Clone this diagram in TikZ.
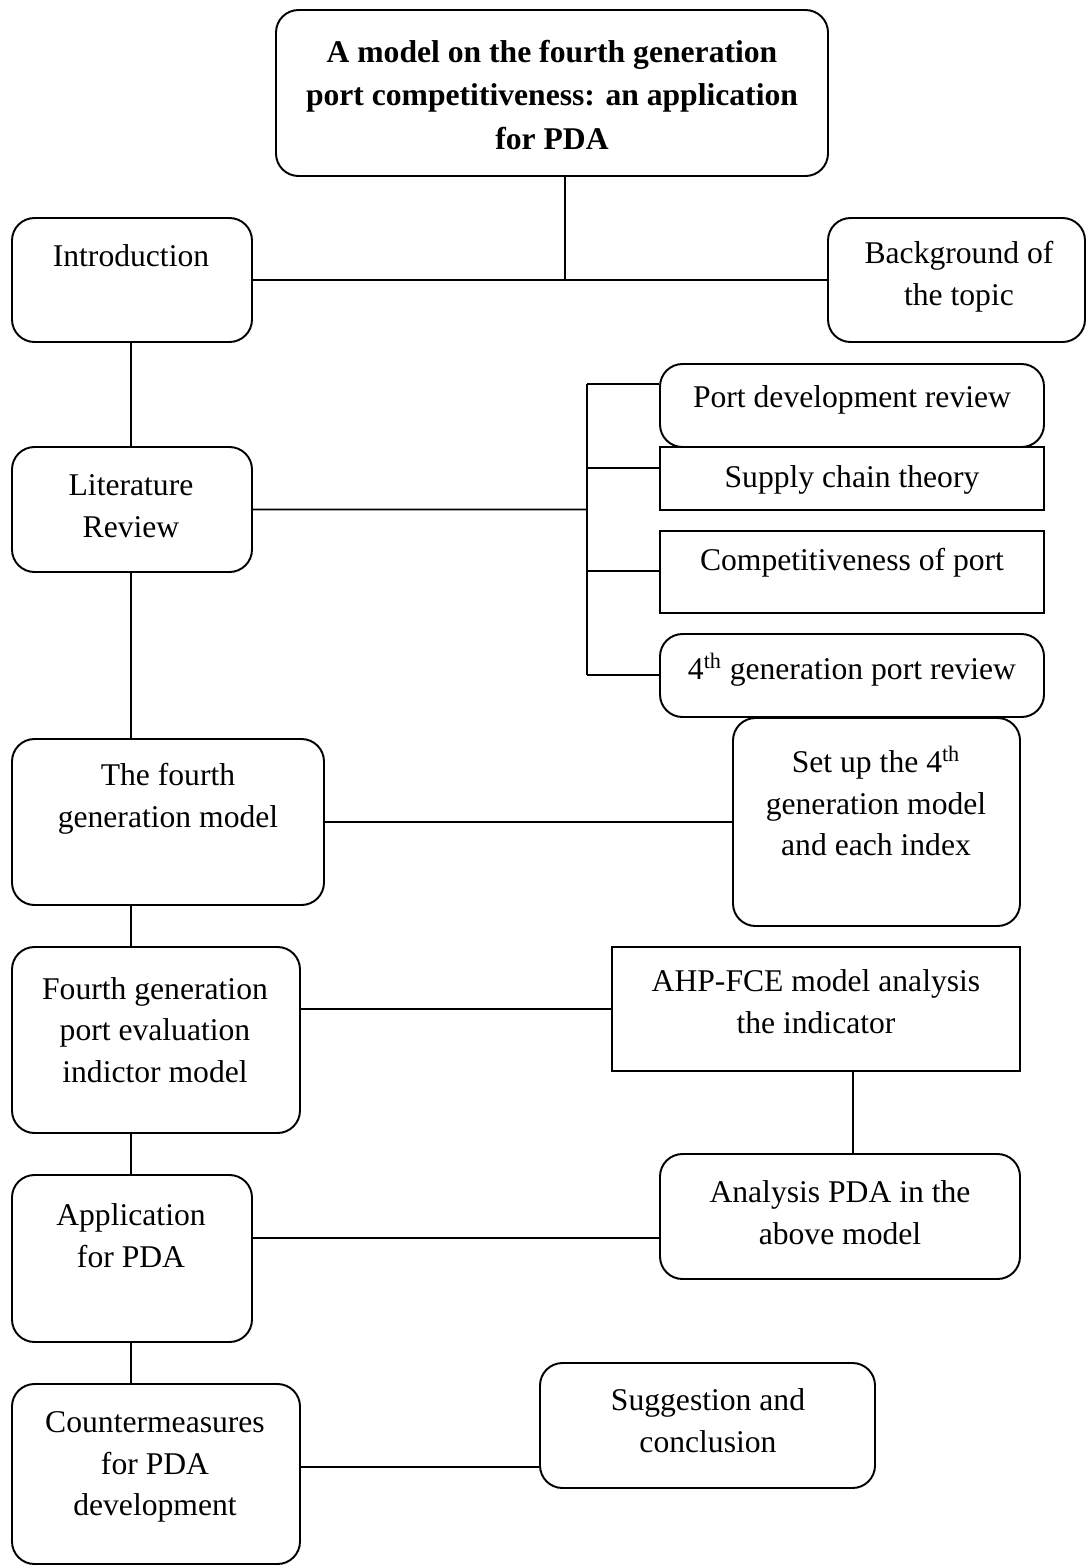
\documentclass[tikz,border=0pt]{standalone}
\usepackage{fontspec}
\setmainfont{Liberation Serif}
\usetikzlibrary{fit}
\tikzset{
  box/.style={draw, line width=1.1pt, inner sep=0pt},
  rbox/.style={box, rounded corners=0.45cm},
  txt/.style={align=center, inner sep=0pt, font=\fontsize{18}{23.8}\selectfont},
  ttl/.style={align=center, inner sep=0pt, font=\fontsize{18}{25}\selectfont\bfseries},
  link/.style={line width=1pt},
}
\begin{document}
\begin{tikzpicture}[x=0.02cm, y=-0.02cm]
\useasboundingbox (0,0) rectangle (1087,1566);

% boxes
\node[rbox, fit={(276,10) (828,176)}] (title) {};
\node[rbox, fit={(12,218) (252,342)}] (intro) {};
\node[rbox, fit={(828,218) (1085,342)}] (bg) {};
\node[rbox, fit={(12,447) (252,572)}] (lit) {};
\node[rbox, fit={(660,364) (1044,447)}] (pdr) {};
\node[box, fit={(660,447) (1044,510)}] (sct) {};
\node[box, fit={(660,531) (1044,613)}] (cop) {};
\node[rbox, fit={(660,634) (1044,717)}] (gpr) {};
\node[rbox, fit={(12,739) (324,905)}] (fgm) {};
\node[rbox, fit={(733,718) (1020,926)}] (setup) {};
\node[rbox, fit={(12,947) (300,1133)}] (eval) {};
\node[box, fit={(612,947) (1020,1071)}] (ahp) {};
\node[rbox, fit={(660,1154) (1020,1279)}] (ana) {};
\node[rbox, fit={(12,1175) (252,1342)}] (app) {};
\node[rbox, fit={(12,1384) (300,1564)}] (cm) {};
\node[rbox, fit={(540,1363) (875,1488)}] (sug) {};

% texts
\node[ttl] (t-title) at (552,95) {A model on the fourth generation\\port competitiveness: an application\\for PDA};
\node[txt] (t-intro) at (131,256) {Introduction};
\node[txt] (t-bg) at (959,277) {Background of\\the topic};
\node[txt] (t-lit) at (131,506) {Literature\\Review};
\node[txt] (t-pdr) at (852,400) {Port development review};
\node[txt] (t-sct) at (852,480) {Supply chain theory};
\node[txt] (t-cop) at (852,563) {Competitiveness of port};
\node[txt] (t-gpr) at (852,670) {4\textsuperscript{th} generation port review};
\node[txt] (t-fgm) at (168,799) {The fourth\\generation model};
\node[txt] (t-setup) at (876,801) {Set up the 4\textsuperscript{th}\\generation model\\and each index};
\node[txt] (t-eval) at (155,1030) {Fourth generation\\port evaluation\\indictor model};
\node[txt] (t-ahp) at (816,1002) {AHP-FCE model analysis\\the indicator};
\node[txt] (t-ana) at (840,1213) {Analysis PDA in the\\above model};
\node[txt] (t-app) at (131,1236) {Application\\for PDA};
\node[txt] (t-cm) at (155,1467) {Countermeasures\\for PDA\\development};
\node[txt] (t-sug) at (708,1421) {Suggestion and\\conclusion};

% junction points
\coordinate (j1) at (565,280);
\coordinate (sp) at (587,509.5);
\coordinate (b1) at (587,384);
\coordinate (b2) at (587,468);
\coordinate (b3) at (587,571);
\coordinate (b4) at (587,675);
\coordinate (spine) at (131,0);
\coordinate (k) at (853,0);
\coordinate (y1) at (0,1009);
\coordinate (y2) at (0,1238);
\coordinate (y3) at (0,1467);

% connectors
\draw[link] (j1 |- title.south) -- (j1);
\draw[link] (intro.east) -- (bg.west);
\draw[link] (spine |- intro.south) -- (spine |- lit.north);
\draw[link] (lit.east) -- (sp);
\draw[link] (b1) -- (b4);
\draw[link] (b1) -- (b1 -| pdr.west);
\draw[link] (b2) -- (b2 -| sct.west);
\draw[link] (b3) -- (b3 -| cop.west);
\draw[link] (b4) -- (b4 -| gpr.west);
\draw[link] (spine |- lit.south) -- (spine |- fgm.north);
\draw[link] (fgm.east) -- (setup.west);
\draw[link] (spine |- fgm.south) -- (spine |- eval.north);
\draw[link] (y1 -| eval.east) -- (y1 -| ahp.west);
\draw[link] (k |- ahp.south) -- (k |- ana.north);
\draw[link] (spine |- eval.south) -- (spine |- app.north);
\draw[link] (y2 -| app.east) -- (y2 -| ana.west);
\draw[link] (spine |- app.south) -- (spine |- cm.north);
\draw[link] (y3 -| cm.east) -- (y3 -| sug.west);
\end{tikzpicture}
\end{document}
